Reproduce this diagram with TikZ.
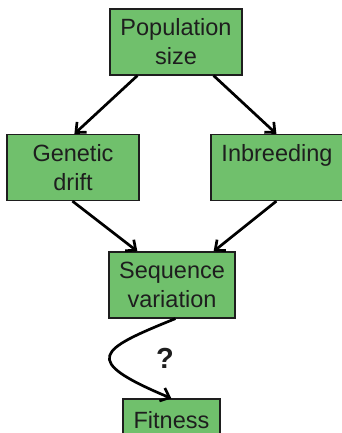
\documentclass[tikz,border=0pt]{standalone}
\usepackage{fontspec}
\setmainfont{Liberation Sans}
\usetikzlibrary{arrows.meta}
\definecolor{boxgreen}{RGB}{112,192,108}
\definecolor{inkgray}{RGB}{30,30,30}

\begin{document}
\begin{tikzpicture}[x=1pt, y=-1pt,
    box/.style={draw=inkgray, line width=1.2pt, fill=boxgreen, align=center,
        minimum width=132pt, minimum height=66pt, inner sep=0pt,
        text=inkgray, font=\fontsize{23.5}{29}\selectfont},
    link/.style={->, line width=2.7pt, >={Straight Barb[length=8pt,width=14pt]}}]
    \useasboundingbox (0,0) rectangle (342,433);
    \node[box] (pop) at (176,42) {Population\\size};
    \node[box] (drift) at (73,167.5) {Genetic\\drift};
    \node[box] (inbr) at (277,167.5) {Inbreeding\\\mbox{}};
    \node[box, minimum width=126pt] (seq) at (172,285) {Sequence\\variation};
    \node[box, minimum width=97pt, minimum height=42pt] (fit) at (171.5,420) {Fitness};
    \draw[link] ([xshift=28pt]pop.south west) -- ([xshift=68pt]drift.north west);
    \draw[link] ([xshift=-29pt]pop.south east) -- ([xshift=66pt]inbr.north west);
    \draw[link] ([xshift=66pt]drift.south west) -- ([xshift=29pt]seq.north west);
    \draw[link] ([xshift=66pt]inbr.south west) -- ([xshift=-22pt]seq.north east);
    \draw[link] ([xshift=67pt]seq.south west) .. controls (98,350) and (80,360) .. ([xshift=49pt]fit.north west);
    \node[text=inkgray, font=\fontsize{29}{34}\selectfont\bfseries] (q) at (165,358) {?};
\end{tikzpicture}
\end{document}
